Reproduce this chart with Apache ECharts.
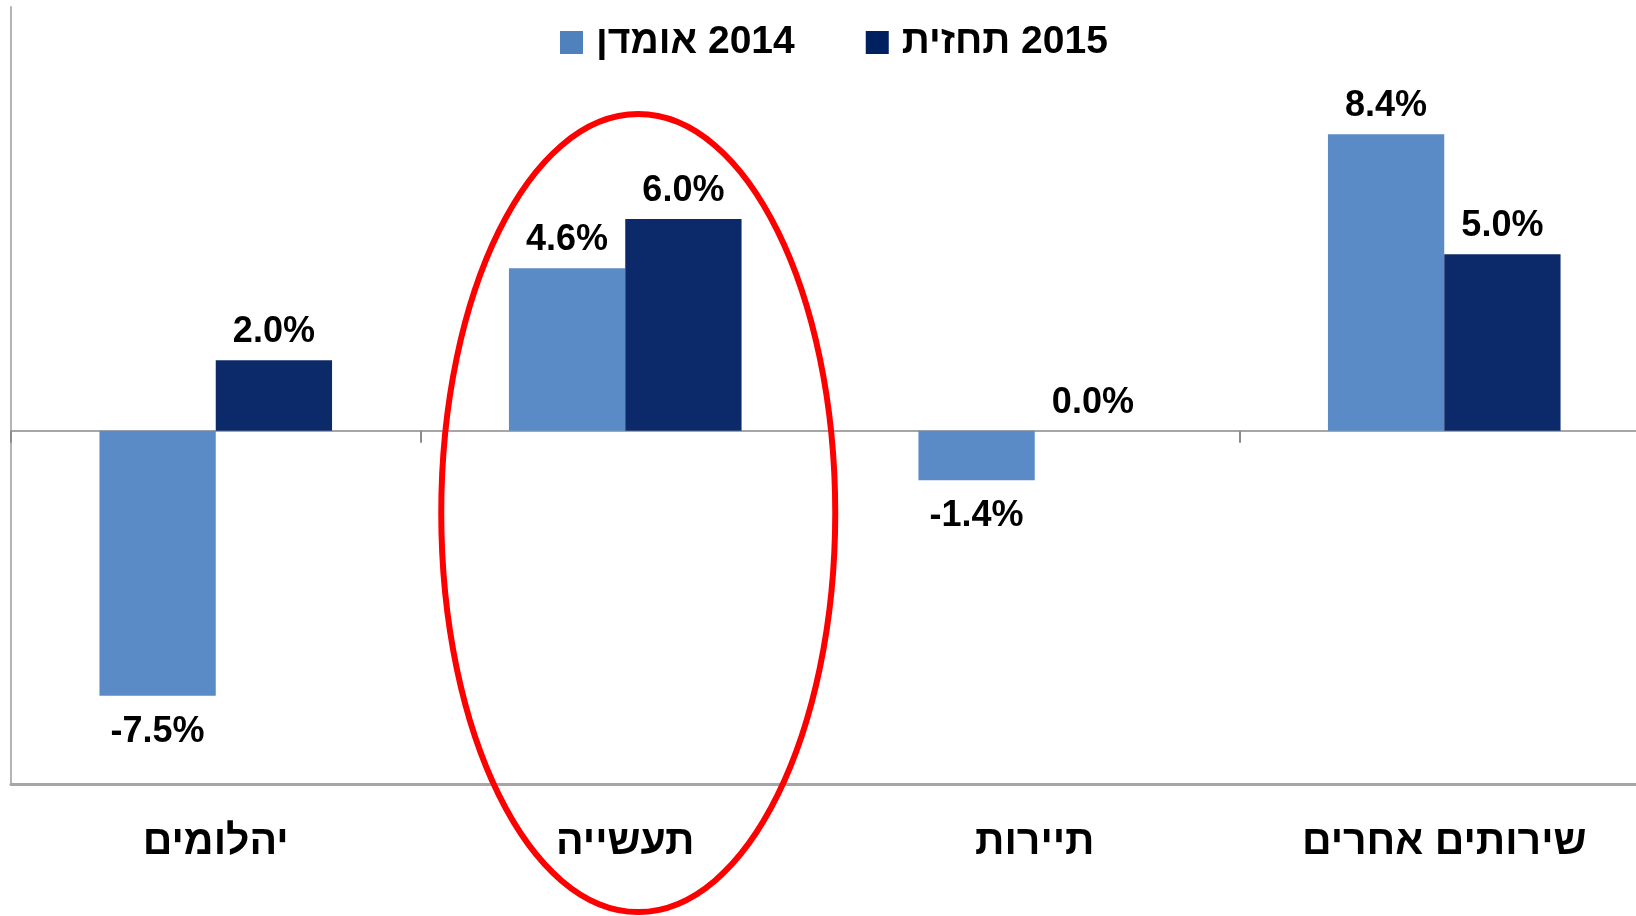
<!DOCTYPE html>
<html>
<head>
<meta charset="utf-8">
<script src="https://cdn.jsdelivr.net/npm/echarts@6/dist/echarts.min.js"></script>
<style>
  html, body { margin: 0; padding: 0; background: #fff; }
  #chart { width: 1636px; height: 916px; }
</style>
</head>
<body>
<div id="chart"></div>
<script>
var categories = ['יהלומים', 'תעשייה', 'תיירות', 'שירותים אחרים'];
var seriesNames = ['אומדן 2014', 'תחזית 2015'];
var estimate2014 = [-7.5, 4.6, -1.4, 8.4];
var forecast2015 = [2.0, 6.0, 0.0, 5.0];

var FONT = '"Liberation Sans", Arial, sans-serif';

function withLabels(values) {
  return values.map(function (v) {
    return {
      value: v,
      label: v < 0 ? { position: 'bottom', distance: 18 } : { position: 'top', distance: 10 }
    };
  });
}

var dom = document.getElementById('chart');
var myChart = echarts.init(dom);

var labelOption = {
  show: true,
  color: '#000',
  fontFamily: FONT,
  fontWeight: 'bold',
  fontSize: 36,
  formatter: function (p) { return p.value.toFixed(1) + '%'; }
};

var legendText = { fontFamily: FONT, fontWeight: 'bold', fontSize: 39, lineHeight: 40, color: '#000' };

var option = {
  animation: false,
  backgroundColor: '#fff',
  legend: {
    left: 555,
    top: 18,
    itemWidth: 23,
    itemHeight: 23,
    itemGap: 71,
    icon: 'rect',
    // hebrew word on the left, year on the right, as in the source
    formatter: function (name) {
      var parts = name.split(' ');
      return '{h|' + parts[0] + '}{s| }{d|' + parts[1] + '}';
    },
    textStyle: {
      fontFamily: FONT, fontWeight: 'bold', fontSize: 39, color: '#000',
      rich: {
        h: Object.assign({ padding: [0, 0, 0, 8] }, legendText),
        s: legendText,
        d: legendText
      }
    },
    data: [
      { name: seriesNames[0], itemStyle: { color: '#4F81BD' } },
      { name: seriesNames[1], itemStyle: { color: '#002060' } }
    ]
  },
  grid: { left: 11, width: 1638, top: 7, bottom: 132, outerBoundsMode: 'none', containLabel: false },
  xAxis: [
    {
      type: 'category',
      data: categories,
      axisLine: { onZero: true, lineStyle: { color: '#a6a6a6', width: 2 } },
      axisTick: { show: true, length: 12, lineStyle: { color: '#8c8c8c', width: 2 } },
      axisLabel: { show: false }
    },
    {
      type: 'category',
      position: 'bottom',
      data: categories,
      axisLine: { onZero: false, lineStyle: { color: '#a6a6a6', width: 3 } },
      axisTick: { show: false },
      axisLabel: {
        margin: 38,
        color: '#000',
        fontFamily: FONT,
        fontWeight: 'bold',
        fontSize: 41
      }
    }
  ],
  yAxis: {
    type: 'value',
    min: -10,
    max: 12,
    axisLine: { show: true, lineStyle: { color: '#b4b4b4', width: 2 } },
    axisTick: { show: false },
    axisLabel: { show: false },
    splitLine: { show: false }
  },
  series: [
    {
      name: seriesNames[0],
      type: 'bar',
      xAxisIndex: 0,
      barWidth: '28.4%',
      barGap: 0,
      itemStyle: { color: '#5B8BC7' },
      label: labelOption,
      data: withLabels(estimate2014)
    },
    {
      name: seriesNames[1],
      type: 'bar',
      xAxisIndex: 0,
      barWidth: '28.4%',
      barGap: 0,
      itemStyle: { color: '#0C2A69' },
      label: labelOption,
      data: withLabels(forecast2015)
    }
  ]
};

myChart.setOption(option, true);

// red highlight ellipse around the "תעשייה" group
var c = myChart.convertToPixel({ xAxisIndex: 0, yAxisIndex: 0 }, [1, -2.3]);
myChart.setOption({
  graphic: [{
    type: 'ellipse',
    shape: { cx: c[0] + 13, cy: c[1] + 1, rx: 197, ry: 399 },
    style: { fill: 'none', stroke: '#ff0000', lineWidth: 6 },
    z: 100
  }]
});
</script>
</body>
</html>
